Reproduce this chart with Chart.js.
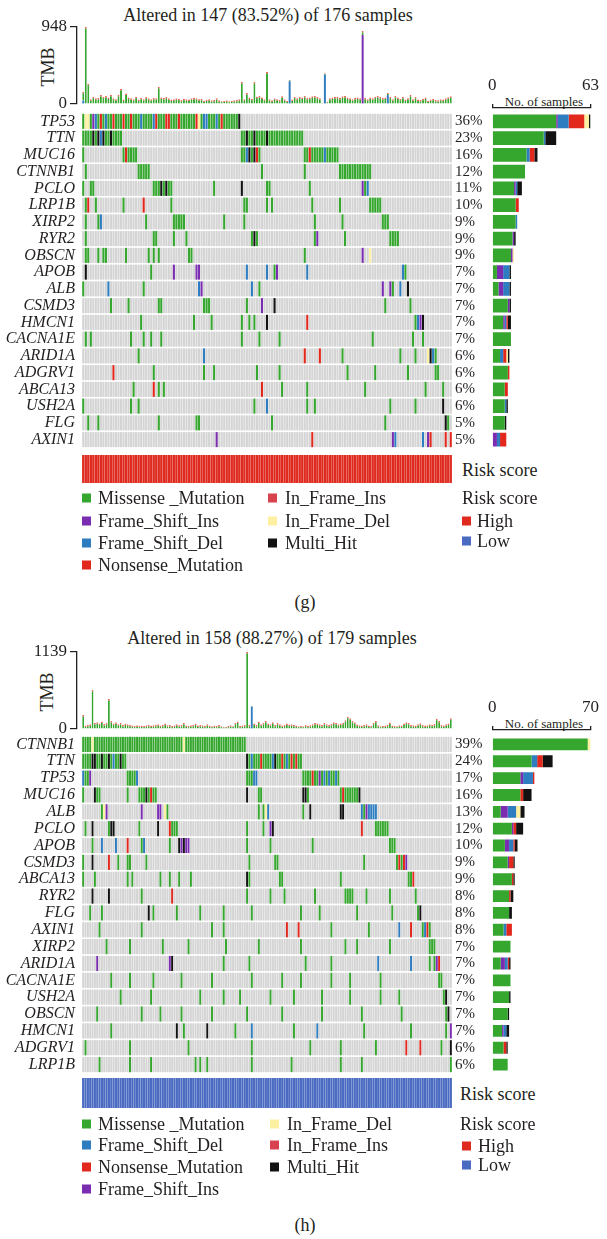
<!DOCTYPE html>
<html>
<head>
<meta charset="utf-8">
<script src="https://cdn.jsdelivr.net/npm/chart.js@4.4.1/dist/chart.umd.min.js"></script>
<style>
  body { margin:0; width:607px; height:1239px; position:relative; background:#fff; overflow:hidden;
         font-family:"Liberation Serif", serif; color:#231f20; }
  canvas { position:absolute; }
  .t { position:absolute; white-space:nowrap; font-size:18px; line-height:1; }
  .c { transform:translate(-50%,-50%); }
  .m { transform:translateY(-50%); }
  .rot { transform:translate(-50%,-50%) rotate(-90deg); }
  .sq { position:absolute; width:9px; height:9px; transform:translateY(-50%); }
</style>
</head>
<body>
<!-- textos panel (g) -->
<div class="t c" style="left:268px;top:15px">Altered in 147 (83.52%) of 176 samples</div>
<div class="t rot" style="left:48px;top:67px">TMB</div>
<div class="t c" style="left:544px;top:101px;font-size:13px">No. of samples</div>
<div class="t m" style="left:462px;top:470px">Risk score</div>
<div class="t c" style="left:305px;top:602px">(g)</div>
<!-- textos panel (h) -->
<div class="t c" style="left:272px;top:638px">Altered in 158 (88.27%) of 179 samples</div>
<div class="t rot" style="left:47px;top:692px">TMB</div>
<div class="t c" style="left:544px;top:723px;font-size:13px">No. of samples</div>
<div class="t m" style="left:460px;top:1094px">Risk score</div>
<div class="t c" style="left:305px;top:1225px">(h)</div>

<script>
// ---- Datos panel (g) ----
const genesG = ['TP53','TTN','MUC16','CTNNB1','PCLO','LRP1B','XIRP2','RYR2','OBSCN','APOB',
                'ALB','CSMD3','HMCN1','CACNA1E','ARID1A','ADGRV1','ABCA13','USH2A','FLG','AXIN1'];
const pctG = ['36%','23%','16%','12%','11%','10%','9%','9%','9%','7%',
              '7%','7%','7%','7%','6%','6%','6%','6%','5%','5%'];
// mutaciones por gen: "columna:codigos" (M missense, I fs_ins, D fs_del, N nonsense, n if_ins, d if_del, X multi)
const mutG = [
  '0:MddMIDMNMD 10:MMNMMMNMMN 20:MMMDMMMMDN 30:MMMNNMMMNM 40:MMMMMNdMDD 50:MMMDMNMMMM 60:MMX',
  '0:MMMMXMXDXMMXMMMM 63:MMXMMXMMMMX 74:MMMMMMMMMMMMMM',
  '0:M 16:MNMMMM 63:MMDXMXNM 88:MMNMMMMMDMMMMM',
  '1:M 22:MMMMM 71:M 88:M 102:MMMMMMMMMMMMM',
  '0:M 3:MM 28:MMMXMXMM 52:M 63:X 73:MM 90:M 111:IMD',
  '1:MN 5:M 16:M 24:N 35:M 64:MM 73:M 75:M 91:M 102:M 114:MMMMM',
  '1:M 6:MD 25:M 36:MMMMM 56:M 64:M 92:M 103:M 119:MMM',
  '1:M 28:MM 36:M 41:M 67:MXM 92:MI 104:M 122:MMMM',
  '1:MM 6:M 8:MM 17:M 26:M 28:M 30:M 42:MM 88:M 111:I 114:d',
  '1:X 27:M 36:I 45:II 65:D 73:D 76:MI 89:D 127:DM',
  '0:M 10:D 24:M 46:DI 67:D 70:M 119:I 122:IM 126:D 129:X',
  '11:M 18:M 30:MM 48:MMM 65:M 71:I 76:X 120:M 130:M',
  '23:M 44:M 51:M 63:M 66:M 68:M 73:X 89:N 132:MDIX',
  '1:M 3:M 19:M 24:M 27:M 31:M 63:M 70:M 78:M 115:M 131:M 135:M',
  '22:M 48:D 88:N 94:N 103:M 126:M 132:M 137:dXDM',
  '12:N 28:M 48:M 52:M 69:M 78:M 105:M 116:M 129:M 140:MM',
  '20:M 28:N 30:M 32:M 71:N 79:M 89:M 112:M 136:M 143:M',
  '0:M 19:M 22:M 68:M 73:D 89:M 92:M 122:M 132:M 143:X',
  '2:M 6:M 30:M 45:MM 75:M 120:M 144:XM',
  '53:I 91:N 123:ID 135:D 137:IN 144:N 146:N'
];
const tmbG = [150,948,250,60,90,70,75,110,90,100,
  80,110,70,60,110,185,55,130,80,70,
  60,90,55,75,60,85,70,60,75,70,
  210,80,75,85,70,55,60,70,65,50,
  65,60,55,70,75,70,60,65,40,55,
  60,45,50,70,45,35,40,45,35,40,
  45,50,60,270,60,135,80,65,270,90,
  100,80,60,394,60,45,70,60,50,95,
  60,40,300,55,90,70,90,80,100,75,
  80,95,100,85,70,15,380,30,70,80,
  85,90,75,95,100,80,70,60,75,80,
  70,900,75,60,80,70,90,100,85,75,
  80,135,90,60,100,80,65,85,55,70,
  110,60,85,55,50,65,80,40,55,65,
  50,45,60,55,70,83,95];
const tmbAltG = [[0,'D',40],[82,'D',280],[96,'D',360],[111,'I',850],[121,'D',110]];
const riskG = Array(147).fill('High');

// ---- Datos panel (h) ----
const genesH = ['CTNNB1','TTN','TP53','MUC16','ALB','PCLO','APOB','CSMD3','ABCA13','RYR2',
                'FLG','AXIN1','XIRP2','ARID1A','CACNA1E','USH2A','OBSCN','HMCN1','ADGRV1','LRP1B'];
const pctH = ['39%','24%','17%','16%','13%','12%','10%','9%','9%','8%',
              '8%','8%','7%','7%','7%','7%','7%','7%','6%','6%'];
const mutH = [
  '0:MMMMdMMMMM 10:MMMMMMMMMM 20:MMMMMMMMMM 30:MMMMMMMMMM 40:MMMdMMMMMM 50:MMMMMMMMMM 60:MMMMMMMMMM',
  '0:MMMMXXMMXMMXMDMMXMM 70:XMDMMMNMMMMDXMMNMDMNMNMM',
  '0:DMMI 19:MMMMD 70:MMMDD 94:MMMMNMMIMDMDMMDM',
  '0:M 5:XMM 19:M 24:MMMXMNMM 70:X 75:MM 94:XXM 110:MNMMMMMMX',
  '8:MdI 25:I 32:II 35:dM 75:M 77:MdD 94:M 97:X 110:XX 119:DMIDDDD',
  '1:M 4:X 11:MXX 24:M 32:X 37:NMMM 70:M 77:M 80:IX 119:N 125:MMMMMM',
  '4:M 8:D 14:D 19:N 25:MD 37:M 41:XIXII 70:M 80:M 98:M 131:MMM',
  '0:M 4:X 11:N 15:M 19:MM 27:M 71:M 82:MM 120:M 134:MNMNI',
  '0:M 5:M 19:M 21:M 33:M 37:M 41:M 46:M 70:XM 84:MM 110:M 139:MMN',
  '4:X 11:X 25:M 38:N 70:M 80:M 86:M 99:M 112:MMMM 121:M 131:M 142:M',
  '3:M 8:M 28:X 30:M 40:M 50:M 60:M 72:M 93:M 101:M 117:M 132:M 143:MX',
  '7:M 25:M 55:M 60:M 87:N 92:N 106:M 122:M 135:D 140:N 145:MDNM',
  '10:M 20:M 34:M 45:M 61:M 75:M 93:M 112:M 117:M 131:M 148:MMM',
  '6:I 37:IX 60:M 71:M 95:M 106:M 126:D 140:D 148:M 150:MIN',
  '12:M 20:M 30:M 42:M 55:M 72:M 85:M 93:M 106:M 114:M 127:M 152:MM',
  '16:M 29:M 50:M 60:M 67:M 80:M 90:M 102:M 114:M 127:M 135:M 154:MX',
  '6:M 25:M 33:M 42:M 55:M 70:M 85:M 102:M 119:M 136:M 155:MX',
  '12:M 40:X 43:M 53:X 65:M 72:D 90:M 100:D 120:M 140:M 155:M 157:I',
  '1:M 20:M 45:M 72:M 97:M 110:M 125:M 138:N 144:N 153:M 157:X',
  '7:M 20:M 29:M 48:M 50:M 53:M 72:M 89:M 110:M 119:M 157:M'
];
const tmbH = [207,50,60,70,577,90,100,80,110,75,
  90,444,120,80,100,70,90,60,80,70,
  60,50,45,55,45,50,45,55,60,50,
  55,60,70,50,60,80,55,60,45,50,
  70,55,60,90,50,45,55,60,80,50,
  60,55,45,70,50,40,50,45,60,40,
  35,30,45,55,40,90,110,45,50,60,
  1139,60,340,80,60,110,70,90,120,80,
  70,100,60,90,70,50,60,80,65,70,
  60,50,40,45,40,60,45,55,70,90,
  80,70,60,90,70,60,75,100,90,70,
  80,90,130,180,160,120,100,65,55,50,
  60,70,50,45,90,120,55,40,45,50,
  60,95,50,45,40,55,50,80,100,90,
  60,55,50,70,85,60,50,55,70,60,
  75,150,120,60,50,70,80,160];
const tmbAltH = [[72,'D',330]];
const riskH = Array(158).fill('Low');

// ---- Estilos ----
const colores = {M:'#35a62e', I:'#7a2db0', D:'#2e7dc0', N:'#e2281d', n:'#d8424e', d:'#fdf0a0', X:'#121212'};
const ordenTipos = ['M','I','D','N','n','d','X'];
const gris = '#d4d4d4';
const rojoRiesgo = '#df2b1f', azulRiesgo = '#4a6bc1';
const tinta = '#231f20';

Chart.defaults.font.family = '"Liberation Serif", serif';
Chart.defaults.color = tinta;
Chart.defaults.animation = false;
Chart.defaults.responsive = false;
Chart.defaults.devicePixelRatio = 1;
Chart.defaults.plugins.legend.display = false;
Chart.defaults.plugins.tooltip.enabled = false;

function crearCanvas(left, top, w, h) {
  const c = document.createElement('canvas');
  c.width = w; c.height = h;
  c.style.left = left + 'px'; c.style.top = top + 'px';
  document.body.appendChild(c);
  return c;
}

function decodificar(str, n) {
  const fila = new Array(n).fill(null);
  str.split(' ').forEach(tok => {
    const [ini, cod] = tok.split(':');
    for (let k = 0; k < cod.length; k++) {
      if (+ini + k < n) fila[+ini + k] = cod[k];
    }
  });
  return fila;
}

// Barras TMB arriba de la matriz
function graficoTMB(n, tmb, alt, maxTmb, top, bottom) {
  const colW = 370 / n;
  const extra = new Array(n).fill(0);
  const colExtra = new Array(n).fill(colores.M);
  alt.forEach(([i, t, v]) => { extra[i] = v; colExtra[i] = colores[t]; });
  const c = crearCanvas(0, top - 16, 456, bottom - top + 32);
  new Chart(c, {
    type: 'bar',
    data: {
      datasets: [
        { data: extra.map((v, i) => ({x: i, y: v})), backgroundColor: colExtra },
        { data: tmb.map((v, i) => ({x: i, y: v - extra[i]})), backgroundColor: colores.M,
          borderColor: '#f0625a', borderWidth: {top: 1.5, left: 0, right: 0, bottom: 0} }
      ]
    },
    options: {
      layout: { padding: {top: 16, bottom: 16, left: 0, right: 4} },
      datasets: { bar: { barPercentage: 0.78, categoryPercentage: 1 } },
      scales: {
        x: { type: 'linear', offset: false, stacked: true, display: false,
             min: -0.5 - 5 / colW, max: n - 0.5 },
        y: {
          stacked: true, min: 0, max: maxTmb,
          afterFit: s => { s.width = 77; },
          afterBuildTicks: s => { s.ticks = [{value: 0}, {value: maxTmb}]; },
          ticks: { font: {size: 17}, padding: 3, color: tinta, callback: v => String(v) },
          grid: { drawOnChartArea: false, tickLength: 7, color: tinta, lineWidth: 1.2 },
          border: { color: tinta, width: 1.3 }
        }
      }
    }
  });
}

// Matriz de mutaciones (oncoplot)
function graficoMatriz(n, genes, pct, filas, top, bottom) {
  const c = crearCanvas(0, top - 24, 500, bottom - top + 48);
  const datasets = filas.map((fila, r) => ({
    data: fila.map((cod, i) => ({x: i, y: [r - 0.45, r + 0.45]})),
    backgroundColor: fila.map(cod => cod ? colores[cod] : gris),
    grouped: false
  }));
  const ejeGenes = (lista, ancho, fuente, pad) => ({
    reverse: true, offset: false, min: -0.5, max: genes.length - 0.5,
    afterFit: s => { s.width = ancho; },
    afterBuildTicks: s => { s.ticks = genes.map((g, i) => ({value: i})); },
    ticks: { callback: v => lista[v], font: fuente, padding: pad, autoSkip: false, color: tinta },
    grid: { display: false, drawTicks: false, tickLength: 0 }, border: { display: false }
  });
  new Chart(c, {
    type: 'bar',
    data: { datasets },
    options: {
      layout: { padding: {top: 24, bottom: 24, left: 0, right: 0} },
      datasets: { bar: { barPercentage: 0.84, categoryPercentage: 1 } },
      scales: {
        x: { type: 'linear', offset: false, display: false, min: -0.5, max: n - 0.5 },
        y: ejeGenes(genes, 82, {size: 16, style: 'italic'}, 7),
        y2: Object.assign(ejeGenes(pct, 48, {size: 15}, 3), { position: 'right' })
      }
    }
  });
}

// Barras horizontales: numero de muestras por gen
function graficoBarras(genes, filas, maxN, lineaY, top, bottom) {
  const pitch = (bottom - top) / genes.length;
  const hueco = (top - lineaY) / pitch;
  const c = crearCanvas(480, lineaY - 40, 127, bottom - lineaY + 50);
  const datasets = ordenTipos.map(t => ({
    data: filas.map((fila, r) => ({x: fila.filter(v => v === t).length, y: r})),
    backgroundColor: colores[t]
  }));
  new Chart(c, {
    type: 'bar',
    data: { datasets },
    options: {
      indexAxis: 'y',
      layout: { padding: {top: 0, bottom: 10, left: 12, right: 10} },
      datasets: { bar: { barPercentage: 0.82, categoryPercentage: 1 } },
      scales: {
        x: {
          position: 'top', stacked: true, min: 0, max: maxN,
          afterFit: s => { s.height = 40; },
          afterBuildTicks: s => { s.ticks = [{value: 0}, {value: maxN}]; },
          ticks: { font: {size: 17}, padding: 8, maxRotation: 0, autoSkip: false, color: tinta },
          grid: { drawOnChartArea: false, tickLength: 4, color: tinta, lineWidth: 1.3 },
          border: { color: tinta, width: 1.3 }
        },
        y: { type: 'linear', offset: false, stacked: true, reverse: true, display: false,
             min: -0.5 - hueco, max: genes.length - 0.5 }
      }
    }
  });
}

// Barra de riesgo
function graficoRiesgo(n, riesgo, top, bottom) {
  const c = crearCanvas(0, top, 456, bottom - top);
  new Chart(c, {
    type: 'bar',
    data: { datasets: [{
      data: riesgo.map((r, i) => ({x: i, y: 1})),
      backgroundColor: riesgo.map(r => r === 'High' ? rojoRiesgo : azulRiesgo)
    }]},
    options: {
      layout: { padding: {top: 0, bottom: 0, left: 82, right: 4} },
      datasets: { bar: { barPercentage: 0.93, categoryPercentage: 1 } },
      scales: {
        x: { type: 'linear', offset: false, display: false, min: -0.5, max: n - 0.5 },
        y: { display: false, min: 0, max: 1 }
      }
    }
  });
}

function leyenda(x, xt, y, color, texto) {
  if (color) {
    const s = document.createElement('div');
    s.className = 'sq';
    s.style.left = x + 'px'; s.style.top = y + 'px'; s.style.background = color;
    document.body.appendChild(s);
  }
  const t = document.createElement('div');
  t.className = 't m';
  t.style.left = xt + 'px'; t.style.top = y + 'px';
  t.textContent = texto;
  document.body.appendChild(t);
}

function dibujarPanel(p) {
  const filas = p.mut.map(s => decodificar(s, p.n));
  graficoTMB(p.n, p.tmb, p.alt, p.tmbMax, p.tmbTop, p.tmbBottom);
  graficoMatriz(p.n, p.genes, p.pct, filas, p.gridTop, p.gridBottom);
  graficoBarras(p.genes, filas, p.barMax, p.lineY, p.gridTop, p.gridBottom);
  graficoRiesgo(p.n, p.risk, p.riskTop, p.riskBottom);
}

dibujarPanel({n: 147, genes: genesG, pct: pctG, mut: mutG, tmb: tmbG, alt: tmbAltG, risk: riskG,
  tmbMax: 948, barMax: 63, tmbTop: 27, tmbBottom: 104, gridTop: 113, gridBottom: 448,
  lineY: 108, riskTop: 455, riskBottom: 483});
dibujarPanel({n: 158, genes: genesH, pct: pctH, mut: mutH, tmb: tmbH, alt: tmbAltH, risk: riskH,
  tmbMax: 1139, barMax: 70, tmbTop: 652, tmbBottom: 729, gridTop: 736, gridBottom: 1073,
  lineY: 730, riskTop: 1078, riskBottom: 1108});

// Leyendas (g)
leyenda(82, 98, 498, colores.M, 'Missense _Mutation');
leyenda(82, 98, 521, colores.I, 'Frame_Shift_Ins');
leyenda(82, 98, 543, colores.D, 'Frame_Shift_Del');
leyenda(82, 98, 565, colores.N, 'Nonsense_Mutation');
leyenda(268, 285, 498, colores.n, 'In_Frame_Ins');
leyenda(268, 285, 521, colores.d, 'In_Frame_Del');
leyenda(268, 285, 543, colores.X, 'Multi_Hit');
leyenda(0, 462, 498, null, 'Risk score');
leyenda(462, 477, 521, rojoRiesgo, 'High');
leyenda(462, 477, 541, azulRiesgo, 'Low');

// Leyendas (h)
leyenda(82, 98, 1124, colores.M, 'Missense _Mutation');
leyenda(82, 98, 1145, colores.D, 'Frame_Shift_Del');
leyenda(82, 98, 1167, colores.N, 'Nonsense_Mutation');
leyenda(82, 98, 1189, colores.I, 'Frame_Shift_Ins');
leyenda(270, 287, 1124, colores.d, 'In_Frame_Del');
leyenda(270, 287, 1145, colores.n, 'In_Frame_Ins');
leyenda(270, 287, 1167, colores.X, 'Multi_Hit');
leyenda(0, 460, 1124, null, 'Risk score');
leyenda(462, 478, 1146, rojoRiesgo, 'High');
leyenda(462, 478, 1165, azulRiesgo, 'Low');
</script>
</body>
</html>
